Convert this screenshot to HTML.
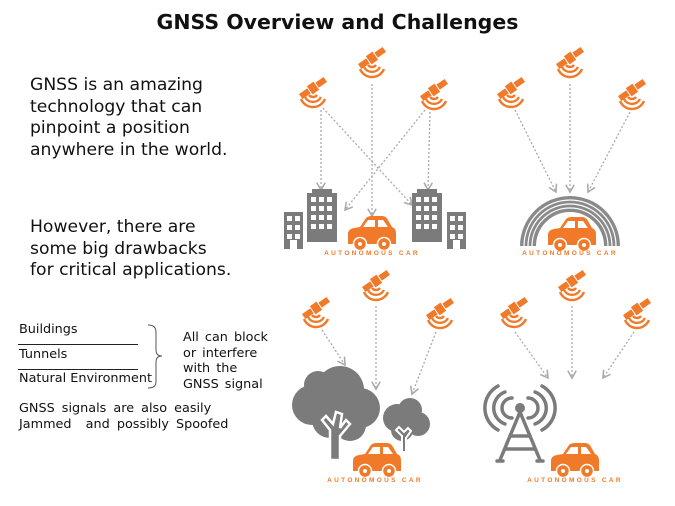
<!DOCTYPE html>
<html><head><style>
body{margin:0;width:675px;height:506px;background:#fff;position:relative;overflow:hidden;font-family:"DejaVu Sans","Liberation Sans",sans-serif;color:#111}
.t{position:absolute;white-space:nowrap}
</style></head><body>
<div class="t" style="left:0;width:675px;text-align:center;top:10px;font-size:20.5px;font-weight:bold;font-family:'DejaVu Sans',sans-serif">GNSS Overview and Challenges</div>
<div class="t" style="left:30px;top:75px;font-size:17.2px;line-height:21.5px">GNSS is an amazing<br>technology that can<br>pinpoint a position<br>anywhere in the world.</div>
<div class="t" style="left:30px;top:217px;font-size:17.2px;line-height:21.5px">However, there are<br>some big drawbacks<br>for critical applications.</div>
<div class="t" style="left:19px;top:322px;font-size:12.8px">Buildings</div>
<div class="t" style="left:19px;top:347px;font-size:12.8px">Tunnels</div>
<div class="t" style="left:19px;top:371px;font-size:12.8px">Natural Environment</div>
<div style="position:absolute;left:18px;top:344px;width:120px;height:1px;background:#222"></div>
<div style="position:absolute;left:18px;top:369px;width:120px;height:1px;background:#222"></div>
<div class="t" style="left:183px;top:330px;font-size:12.8px;line-height:15.5px;word-spacing:2px">All can block<br>or interfere<br>with the<br>GNSS signal</div>
<div class="t" style="left:19px;top:401px;font-size:12.8px;line-height:15.5px;word-spacing:3px">GNSS signals are also easily<br>Jammed&nbsp; and possibly Spoofed</div>
<svg style="position:absolute;left:0;top:0" width="675" height="506">
<defs>
<g id="sat">
<g transform="rotate(-35)"><rect x="-4" y="-5" width="8" height="10" fill="#f07a2a"/><rect x="-15" y="-3" width="10" height="6" fill="#f07a2a"/><rect x="5" y="-3" width="10" height="6" fill="#f07a2a"/></g>
<g fill="none" stroke="#f07a2a" stroke-width="2.4"><path d="M-4 7 A5 5 0 0 0 4 7"/><path d="M-8 9 A9 9 0 0 0 8 9"/><path d="M-12 11 A13 13 0 0 0 12 11"/></g>
</g>
<g id="car">
<path d="M-24 14 L-24 4 Q-24 -1 -18 -2 L-12 -3 L-6 -12 Q-4 -14 0 -14 L10 -14 Q14 -14 16 -10 L20 -3 Q24 -2 24 4 L24 14 Z" fill="#f07a2a"/>
<path d="M-9 -3 L-4 -10 L3 -10 L3 -3Z M6 -3 L6 -10 L11 -10 L16 -3Z" fill="#fff"/>
<circle cx="-12" cy="14" r="6.5" fill="#f07a2a" stroke="#fff" stroke-width="1.5"/><circle cx="-12" cy="14" r="2" fill="#fff"/>
<circle cx="12" cy="14" r="6.5" fill="#f07a2a" stroke="#fff" stroke-width="1.5"/><circle cx="12" cy="14" r="2" fill="#fff"/>
</g>
<marker id="ar" viewBox="0 0 10 10" refX="8" refY="5" markerWidth="8" markerHeight="8" orient="auto"><path d="M1 1 L8 5 L1 9" fill="none" stroke="#aaa" stroke-width="1.5"/></marker>
</defs>
<g stroke="#aaa" stroke-width="1.3" stroke-dasharray="2,2" fill="none" marker-end="url(#ar)">
<line x1="321" y1="110" x2="321" y2="190"/><line x1="372" y1="84" x2="372" y2="216"/><line x1="430" y1="112" x2="428" y2="190"/>
<line x1="323" y1="108" x2="412" y2="205"/><line x1="425" y1="110" x2="345" y2="210"/>
<line x1="515" y1="110" x2="556" y2="192"/><line x1="570" y1="84" x2="570" y2="192"/><line x1="630" y1="112" x2="588" y2="192"/>
<line x1="322" y1="330" x2="345" y2="365"/><line x1="376" y1="306" x2="376" y2="389"/><line x1="436" y1="332" x2="412" y2="394"/>
<line x1="515" y1="332" x2="548" y2="378"/><line x1="572" y1="306" x2="572" y2="378"/><line x1="634" y1="332" x2="603" y2="378"/>
</g>
<use href="#sat" x="313" y="88"/><use href="#sat" x="372" y="58"/><use href="#sat" x="434" y="90"/>
<use href="#sat" x="511" y="88"/><use href="#sat" x="570" y="58"/><use href="#sat" x="632" y="90"/>
<use href="#sat" x="316" y="308"/><use href="#sat" x="376" y="281"/><use href="#sat" x="440" y="309"/>
<use href="#sat" x="514" y="308"/><use href="#sat" x="572" y="281"/><use href="#sat" x="637" y="309"/>
<g fill="#7b7b7b">
<rect x="307" y="193" width="30" height="49"/><rect x="312" y="189" width="20" height="5"/>
<rect x="284" y="212" width="19" height="37"/>
<rect x="412" y="193" width="30" height="49"/><rect x="417" y="189" width="20" height="5"/>
<rect x="447" y="212" width="19" height="37"/>
</g>
<g fill="#fff">
<g id="w3"><rect x="311" y="197" width="5" height="5"/><rect x="319" y="197" width="5" height="5"/><rect x="327" y="197" width="5" height="5"/></g>
<use href="#w3" y="9"/><use href="#w3" y="18"/><use href="#w3" y="27"/>
<use href="#w3" x="105"/><use href="#w3" x="105" y="9"/><use href="#w3" x="105" y="18"/><use href="#w3" x="105" y="27"/>
<g id="w2"><rect x="287" y="216" width="5" height="5"/><rect x="295" y="216" width="5" height="5"/></g>
<use href="#w2" y="9"/><use href="#w2" y="18"/>
<use href="#w2" x="163"/><use href="#w2" x="163" y="9"/><use href="#w2" x="163" y="18"/>
<rect x="290" y="240" width="7" height="9"/><rect x="453" y="240" width="7" height="9"/>
</g>
<use href="#car" x="372" y="230"/>
<text x="372" y="255" text-anchor="middle" font-family="Liberation Sans,sans-serif" font-size="6.5" font-weight="bold" letter-spacing="2.3" fill="#f07a2a">AUTONOMOUS CAR</text>
<path d="M520 246 A50 50 0 0 1 620 246 L604 246 A34 34 0 0 0 536 246 Z" fill="#8a8a8a"/>
<g stroke="#fff" stroke-width="1.2" fill="none">
<path d="M524 246 A46 46 0 0 1 616 246"/><path d="M528 246 A42 42 0 0 1 612 246"/><path d="M532 246 A38 38 0 0 1 608 246"/>
</g>
<use href="#car" x="572" y="231"/>
<text x="570" y="255" text-anchor="middle" font-family="Liberation Sans,sans-serif" font-size="6.5" font-weight="bold" letter-spacing="2.3" fill="#f07a2a">AUTONOMOUS CAR</text>
<g fill="#7b7b7b">
<circle cx="312" cy="405" r="20"/><circle cx="340" cy="390" r="24"/><circle cx="360" cy="408" r="20"/><circle cx="330" cy="420" r="18"/><circle cx="350" cy="425" r="16"/><circle cx="318" cy="385" r="14"/>
<path d="M330 460 L330 430 L322 420 L326 416 L333 424 L336 412 L342 414 L340 428 L346 420 L350 424 L340 436 L340 460Z" fill="#7b7b7b" stroke="#fff" stroke-width="2.5"/>
<circle cx="397" cy="418" r="14"/><circle cx="410" cy="410" r="12"/><circle cx="418" cy="424" r="12"/><circle cx="402" cy="430" r="11"/>
<path d="M402 452 L402 436 L396 430 L399 427 L404 432 L408 428 L411 431 L406 438 L406 452Z" stroke="#fff" stroke-width="2"/>
</g>
<use href="#car" x="377" y="457"/>
<text x="375" y="482" text-anchor="middle" font-family="Liberation Sans,sans-serif" font-size="6.5" font-weight="bold" letter-spacing="2.3" fill="#f07a2a">AUTONOMOUS CAR</text>
<g stroke="#7b7b7b" stroke-width="3.5" fill="none" stroke-linecap="round">
<path d="M500 460 L520 412 L540 460"/><path d="M510 436 L530 436"/><path d="M505 449 L535 449"/><path d="M497 461 L503 461 M537 461 L543 461"/>
<path d="M512 398 A10 10 0 0 0 512 418"/><path d="M528 398 A10 10 0 0 1 528 418"/>
<path d="M505 392 A17 17 0 0 0 505 424"/><path d="M535 392 A17 17 0 0 1 535 424"/>
<path d="M498 386 A25 25 0 0 0 498 430"/><path d="M542 386 A25 25 0 0 1 542 430"/>
</g>
<circle cx="520" cy="408" r="5" fill="#7b7b7b"/>
<use href="#car" x="575" y="457"/>
<text x="575" y="482" text-anchor="middle" font-family="Liberation Sans,sans-serif" font-size="6.5" font-weight="bold" letter-spacing="2.3" fill="#f07a2a">AUTONOMOUS CAR</text>
<path d="M148 325 Q156 325 156 332 L156 350 Q156 356 162 356 Q156 356 156 362 L156 382 Q156 388 148 388" fill="none" stroke="#555" stroke-width="1"/>
</svg>
</body></html>
